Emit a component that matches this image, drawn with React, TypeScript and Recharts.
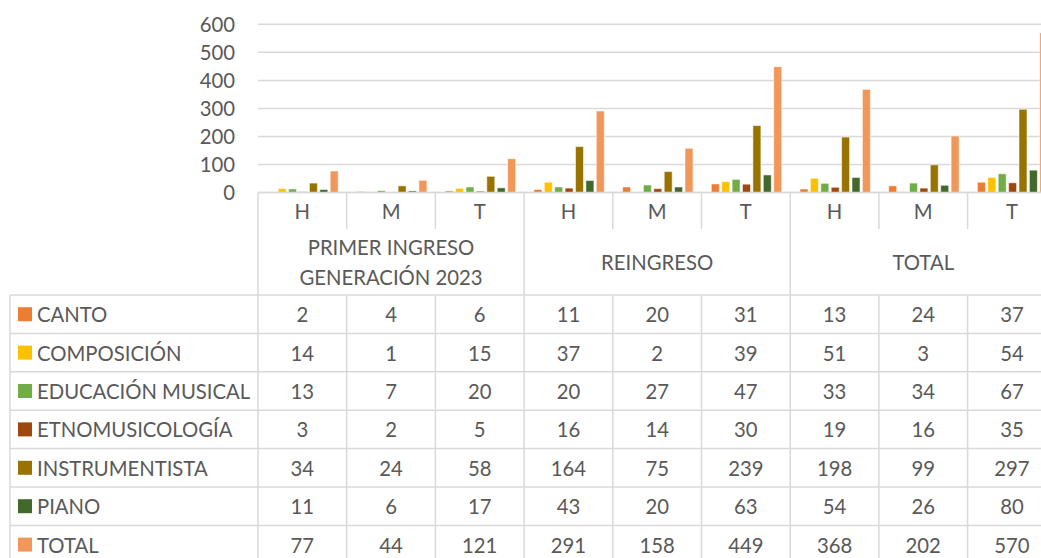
import React from "react";
import { BarChart, Bar, XAxis, YAxis, CartesianGrid } from "recharts";

// sub-categories (x axis) and their groups
const subCats = ["H", "M", "T", "H", "M", "T", "H", "M", "T"];
const groupLabels = [["PRIMER INGRESO", "GENERACIÓN 2023"], ["REINGRESO"], ["TOTAL"]];
const yTicks = [0, 100, 200, 300, 400, 500, 600];

// series values
const canto = [2, 4, 6, 11, 20, 31, 13, 24, 37];
const composicion = [14, 1, 15, 37, 2, 39, 51, 3, 54];
const educacion = [13, 7, 20, 20, 27, 47, 33, 34, 67];
const etno = [3, 2, 5, 16, 14, 30, 19, 16, 35];
const instrumentista = [34, 24, 58, 164, 75, 239, 198, 99, 297];
const piano = [11, 6, 17, 43, 20, 63, 54, 26, 80];
const total = [77, 44, 121, 291, 158, 449, 368, 202, 570];

const series = [
  { key: "canto", name: "CANTO", color: "#ED7D31", values: canto },
  { key: "composicion", name: "COMPOSICIÓN", color: "#FFC000", values: composicion },
  { key: "educacion", name: "EDUCACIÓN MUSICAL", color: "#70AD47", values: educacion },
  { key: "etno", name: "ETNOMUSICOLOGÍA", color: "#9E480E", values: etno },
  { key: "instrumentista", name: "INSTRUMENTISTA", color: "#997300", values: instrumentista },
  { key: "piano", name: "PIANO", color: "#43682B", values: piano },
  { key: "total", name: "TOTAL", color: "#F1975A", values: total },
];

const data = subCats.map((cat, i) => {
  const row: Record<string, number | string> = { id: i, cat };
  series.forEach((s) => (row[s.key] = s.values[i]));
  return row;
});

// layout
const FONT = "Lato, 'Open Sans', sans-serif";
const TEXT = "#595959";
const LINE = "#d9d9d9";
const FS = 20.3;
const PLOT_LEFT = 258;
const CAT_W = 88.7;
const PLOT_TOP = 24.3;
const PLOT_BOTTOM = 192.6;
const CHART_W = PLOT_LEFT + CAT_W * 9 + 10;
const CHART_H = 220;
const TABLE_LEFT = 10;
const SUB_BOTTOM = 229;
const GROUP_BOTTOM = 295;
const ROW_H = 38.4;
const TABLE_BOTTOM = GROUP_BOTTOM + ROW_H * series.length;

function DataTable() {
  const colX = (i: number) => PLOT_LEFT + CAT_W * i;
  const right = colX(9);
  const lines: React.ReactNode[] = [];
  // horizontal
  lines.push(<line key="h0" x1={PLOT_LEFT} x2={right} y1={PLOT_BOTTOM} y2={PLOT_BOTTOM} />);
  for (let r = 0; r <= series.length; r++) {
    const y = GROUP_BOTTOM + r * ROW_H;
    lines.push(<line key={"hr" + r} x1={TABLE_LEFT} x2={right} y1={y} y2={y} />);
  }
  // vertical
  lines.push(<line key="vl" x1={TABLE_LEFT} x2={TABLE_LEFT} y1={GROUP_BOTTOM} y2={TABLE_BOTTOM} />);
  for (let i = 0; i <= 9; i++) {
    const x = colX(i);
    if (i % 3 === 0) {
      lines.push(<line key={"vg" + i} x1={x} x2={x} y1={PLOT_BOTTOM} y2={TABLE_BOTTOM} />);
    } else {
      lines.push(<line key={"va" + i} x1={x} x2={x} y1={PLOT_BOTTOM} y2={SUB_BOTTOM} />);
      lines.push(<line key={"vb" + i} x1={x} x2={x} y1={GROUP_BOTTOM} y2={TABLE_BOTTOM} />);
    }
  }
  return (
    <svg
      width={CHART_W}
      height={600}
      style={{ position: "absolute", left: 0, top: 0, pointerEvents: "none" }}
    >
      <g stroke={LINE} strokeWidth={1.5}>{lines}</g>
      <g fontFamily={FONT} fontSize={FS} fill={TEXT} textAnchor="middle" dominantBaseline="central">
        {subCats.map((c, i) => (
          <text key={"s" + i} x={colX(i) + CAT_W / 2} y={(PLOT_BOTTOM + SUB_BOTTOM) / 2}>
            {c}
          </text>
        ))}
        {groupLabels.map((g, gi) => {
          const cx = colX(gi * 3) + (CAT_W * 3) / 2;
          const cy = (SUB_BOTTOM + GROUP_BOTTOM) / 2;
          return g.map((t, li) => (
            <text key={"g" + gi + li} x={cx} y={cy + (li - (g.length - 1) / 2) * 30}>
              {t}
            </text>
          ));
        })}
        {series.map((s, r) =>
          s.values.map((v, i) => (
            <text key={s.key + i} x={colX(i) + CAT_W / 2} y={GROUP_BOTTOM + r * ROW_H + ROW_H / 2}>
              {v}
            </text>
          ))
        )}
      </g>
      {series.map((s, r) => {
        const cy = GROUP_BOTTOM + r * ROW_H + ROW_H / 2;
        return (
          <g key={"lab" + s.key}>
            <rect x={18} y={cy - 7} width={14} height={14} fill={s.color} />
            <text x={37} y={cy} fontFamily={FONT} fontSize={FS} fill={TEXT} dominantBaseline="central">
              {s.name}
            </text>
          </g>
        );
      })}
    </svg>
  );
}

export default function App() {
  return (
    <div
      style={{
        position: "absolute",
        left: 0,
        top: 0,
        width: 1041,
        height: 558,
        overflow: "hidden",
        background: "#fff",
      }}
    >
      <div style={{ position: "absolute", left: 0, top: 0 }}>
        <BarChart
          width={CHART_W}
          height={CHART_H}
          data={data}
          margin={{ top: PLOT_TOP, right: 10, bottom: CHART_H - PLOT_BOTTOM, left: 0 }}
          barCategoryGap={9.8}
          barGap={2.4}
        >
          <CartesianGrid vertical={false} stroke={LINE} strokeWidth={1.5} />
          <XAxis dataKey="id" hide />
          <YAxis
            width={PLOT_LEFT}
            domain={[0, 600]}
            ticks={yTicks}
            interval={0}
            axisLine={false}
            tickLine={false}
            tickSize={0}
            tickMargin={23}
            tick={{ fill: TEXT, fontSize: FS, fontFamily: FONT }}
          />
          {series.map((s) => (
            <Bar
              key={s.key}
              dataKey={s.key}
              name={s.name}
              fill={s.color}
              stroke="#ffffff"
              strokeOpacity={0.55}
              strokeWidth={1}
              isAnimationActive={false}
            />
          ))}
        </BarChart>
      </div>
      <DataTable />
    </div>
  );
}
